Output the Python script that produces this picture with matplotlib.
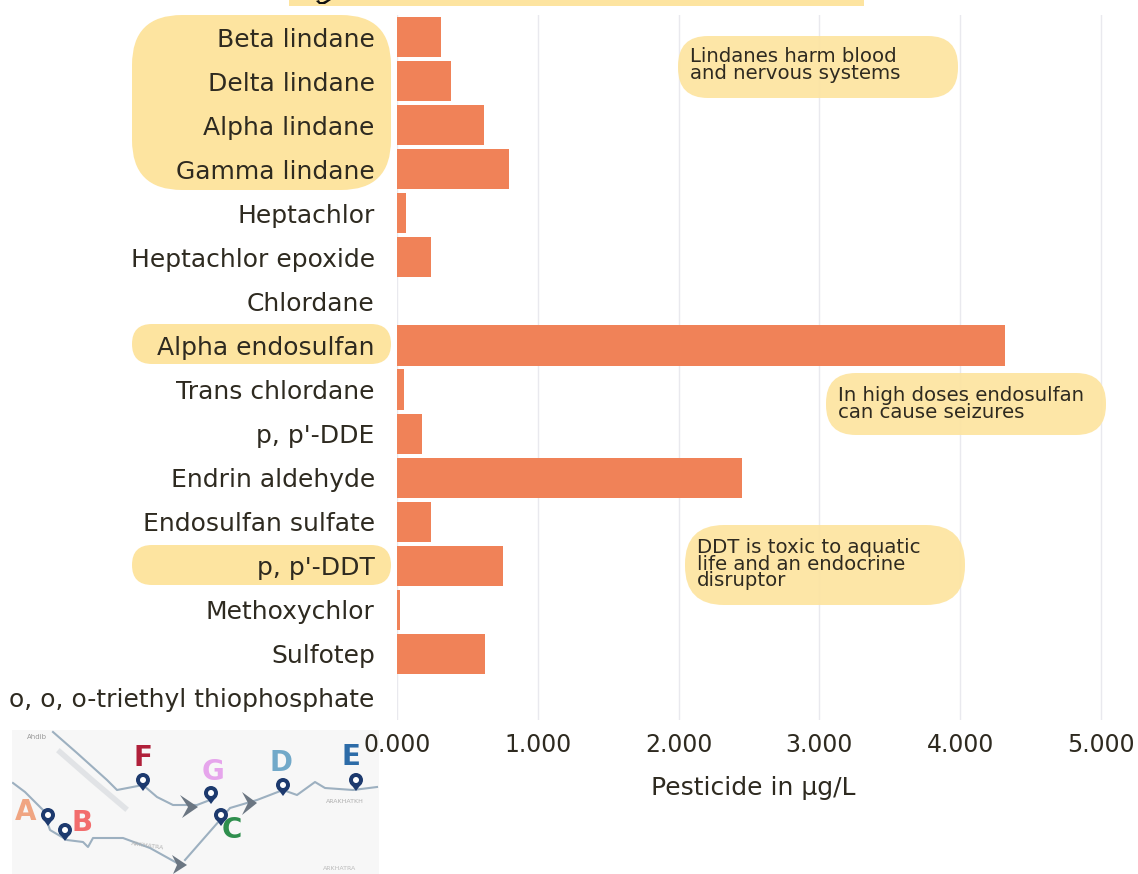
import matplotlib
matplotlib.use("Agg")
import matplotlib.pyplot as plt
from matplotlib.patches import FancyBboxPatch, Rectangle, Polygon, Circle

plt.rcParams['font.family'] = ['DejaVu Sans']

compounds = ["Beta lindane", "Delta lindane", "Alpha lindane", "Gamma lindane", "Heptachlor",
             "Heptachlor epoxide", "Chlordane", "Alpha endosulfan", "Trans chlordane", "p, p'-DDE",
             "Endrin aldehyde", "Endosulfan sulfate", "p, p'-DDT", "Methoxychlor", "Sulfotep",
             "o, o, o-triethyl thiophosphate"]
pesticide = [0.31, 0.38, 0.615, 0.795, 0.065, 0.24, 0.0, 4.32, 0.05, 0.175,
             2.45, 0.245, 0.75, 0.02, 0.625, 0.0]
xticks = [0, 1, 2, 3, 4, 5]
xticklabels = ["0.000", "1.000", "2.000", "3.000", "4.000", "5.000"]
xlabel = "Pesticide in µg/L"

notes = ["Lindanes harm blood\nand nervous systems",
         "In high doses endosulfan\ncan cause seizures",
         "DDT is toxic to aquatic\nlife and an endocrine\ndisruptor"]
note_boxes = [(678, 36, 280, 62), (826, 373, 280, 62), (685, 525, 280, 80)]
note_text_xy = [(690, 65), (838, 404), (697, 564)]
label_boxes = [(132, 15, 259, 175), (132, 324, 259, 40), (132, 545, 259, 40)]

W, H = 1138, 874
YEL = "#fde4a0"
ORANGE = "#f08258"
INK = "#2e2a20"
fig = plt.figure(figsize=(W/100, H/100), dpi=100, facecolor="white")

ov = fig.add_axes([0, 0, 1, 1], zorder=0)
ov.set_xlim(0, W); ov.set_ylim(H, 0); ov.axis("off")

# inset river map sits under the chart's tick labels
m = fig.add_axes([12/W, 1-874/H, 367/W, (874-730)/H], zorder=1)
m.set_xlim(12, 379); m.set_ylim(874, 730)
m.set_facecolor("#f7f7f7")
m.set_xticks([]); m.set_yticks([])
for s in m.spines.values():
    s.set_visible(False)
river = "#9db0c0"
rivers = [
    [(13, 783), (25, 792), (43, 810), (50, 830), (67, 840), (83, 842), (88, 847), (93, 838), (123, 838), (150, 848), (177, 863)],
    [(53, 732), (77, 753), (107, 780), (117, 790), (143, 785), (157, 797), (173, 805), (197, 805), (210, 800)],
    [(185, 860), (220, 820), (230, 808), (257, 800), (283, 790), (297, 795), (315, 782), (325, 788), (353, 790), (377, 787)],
]
for r_ in rivers:
    m.plot(*zip(*r_), color=river, lw=1.5, zorder=1)
m.plot([60, 92, 125], [752, 780, 808], color="#dcdfe2", lw=4, zorder=1, alpha=0.8)
arrows = [[(180, 795), (198, 807), (182, 818), (188, 807)],
          [(242, 792), (257, 803), (242, 815), (248, 803)],
          [(172, 855), (187, 865), (173, 874), (177, 865)]]
for a in arrows:
    m.add_patch(Polygon(a, closed=True, fc="#6b7682", ec="none", zorder=2))
pins = [(48, 815), (65, 830), (143, 780), (211, 793), (221, 815), (283, 785), (356, 780)]
for px, py in pins:
    m.add_patch(Polygon([(px-6, py+3), (px, py+11), (px+6, py+3)], closed=True, fc="#1d3a6e", ec="none", zorder=3))
    m.add_patch(Circle((px, py), 7, fc="#1d3a6e", ec="none", zorder=3))
    m.add_patch(Circle((px, py), 3, fc="white", ec="none", zorder=4))
letters = [("A", 26, 812, "#f0a582"), ("B", 82, 823, "#f26d6d"), ("C", 232, 830, "#2f8f4e"),
           ("D", 281, 763, "#72a9c9"), ("E", 351, 757, "#2d6ca8"), ("F", 143, 758, "#b0203a"),
           ("G", 213, 772, "#e6a5ec")]
for s, x, y, c in letters:
    m.text(x, y, s, color=c, fontsize=20, ha="center", va="center", fontweight="bold")
m.text(27, 737, "Ahdib", fontsize=5, color="#999999", ha="left", va="center")
m.text(345, 801, "ARAKHATKH", fontsize=4.5, color="#b0b0b0", ha="center", va="center")
m.text(148, 846, "ARKHATRA", fontsize=4.5, color="#b0b0b0", ha="center", va="center", rotation=-8)
m.text(340, 868, "ARKHATRA", fontsize=4.5, color="#bbbbbb", ha="center", va="center")

ax = fig.add_axes([397/W, 1-720/H, (1115-397)/W, (720-15)/H], zorder=2)
ax.patch.set_alpha(0)
ax.barh(range(len(compounds)), pesticide, height=0.91, color=ORANGE, zorder=2)
ax.set_xlim(0, 718/140.8)
ax.set_ylim(len(compounds)-0.5, -0.5)
ax.set_yticks(range(len(compounds)))
ax.set_yticklabels(compounds, fontsize=18, color=INK)
ax.set_xticks(xticks)
ax.set_xticklabels(xticklabels, fontsize=17, color=INK)
ax.tick_params(length=0, pad=16, axis="y")
ax.tick_params(length=0, pad=9, axis="x")
ax.grid(axis="x", color="#e9e9ee", lw=1.0, zorder=0)
ax.set_axisbelow(True)
for s in ax.spines.values():
    s.set_visible(False)
ax.set_xlabel(xlabel, fontsize=18, color=INK, labelpad=14, x=(753-397)/718)

# title strip cut off by the crop, with the tail of its first glyph
ov.add_patch(Rectangle((289, 0), 575, 6, color=YEL, lw=0))
ov.add_patch(Polygon([(316, 1), (319, 4), (325, 4), (331, 0), (327, 0), (323, 2), (320, 2), (319, 0)],
                     closed=True, fc="#111111", ec="none", zorder=3))

for x, y, w, h in label_boxes:
    r = min(h/2, 50)
    ov.add_patch(FancyBboxPatch((x+r, y+r), w-2*r, h-2*r, boxstyle=f"round,pad={r},rounding_size={r}",
                                fc=YEL, ec="none"))

ov2 = fig.add_axes([0, 0, 1, 1], zorder=3)
ov2.set_xlim(0, W); ov2.set_ylim(H, 0); ov2.axis("off"); ov2.patch.set_alpha(0)
for (x, y, w, h), t, (tx, ty) in zip(note_boxes, notes, note_text_xy):
    r = h/2 - 1
    ov2.add_patch(FancyBboxPatch((x+r, y+r), w-2*r, h-2*r, boxstyle=f"round,pad={r},rounding_size={r}",
                                 fc=YEL, ec="none", alpha=0.92))
    ov2.text(tx, ty, t, fontsize=14.2, color=INK, va="center", ha="left", linespacing=0.82)

fig.savefig("out.png", dpi=100)
